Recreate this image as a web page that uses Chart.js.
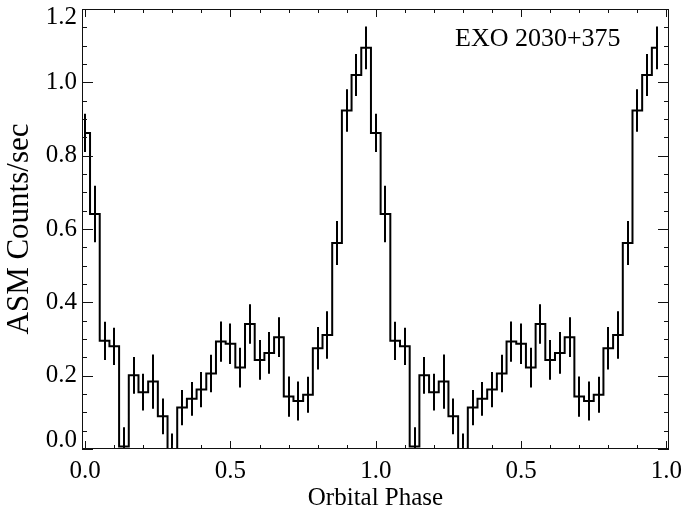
<!DOCTYPE html>
<html lang="en">
<head>
<meta charset="UTF-8">
<title>EXO 2030+375 orbital phase</title>
<style>
  html, body { margin: 0; padding: 0; background: #fff; }
  #wrap { width: 683px; height: 513px; }
</style>
<script src="https://cdn.jsdelivr.net/npm/chart.js"></script>
</head>
<body>
<div id="wrap"><canvas id="phaseChart" width="683" height="513"></canvas></div>
<script>
// ASM light curve folded on the orbit, 30 bins per cycle (bin centres)
const phase = [0.0000, 0.0333, 0.0667, 0.1000, 0.1333, 0.1667, 0.2000, 0.2333, 0.2667, 0.3000,
               0.3333, 0.3667, 0.4000, 0.4333, 0.4667, 0.5000, 0.5333, 0.5667, 0.6000, 0.6333,
               0.6667, 0.7000, 0.7333, 0.7667, 0.8000, 0.8333, 0.8667, 0.9000, 0.9333, 0.9667];
const rate = [0.862, 0.641, 0.295, 0.280, 0.007, 0.201, 0.155, 0.184, 0.089, 0.000,
              0.113, 0.137, 0.162, 0.206, 0.293, 0.287, 0.222, 0.341, 0.243, 0.262,
              0.305, 0.143, 0.131, 0.148, 0.275, 0.311, 0.562, 0.923, 1.020, 1.094];
const rateErr = [0.052, 0.077, 0.052, 0.051, 0.052, 0.050, 0.050, 0.074, 0.049, 0.042,
                 0.048, 0.046, 0.048, 0.051, 0.055, 0.055, 0.054, 0.054, 0.054, 0.057,
                 0.054, 0.055, 0.053, 0.049, 0.058, 0.065, 0.060, 0.058, 0.057, 0.058];
// the profile is shown twice
const cycles = [0, 1];
const yLabels = ['0.0', '0.2', '0.4', '0.6', '0.8', '1.0', '1.2'];
const sourceName = 'EXO 2030+375';

const FONT = '"Liberation Serif", "Times New Roman", serif';

const points = [];
cycles.forEach(c => {
    phase.forEach((p, i) => points.push({ x: p + c, y: rate[i], err: rateErr[i] }));
});

// error bars at each bin centre
const errorBars = {
    id: 'errorBars',
    afterDatasetsDraw(chart) {
        const { ctx, chartArea, scales: { x, y } } = chart;
        ctx.save();
        ctx.beginPath();
        ctx.rect(chartArea.left, chartArea.top, chartArea.right - chartArea.left, chartArea.bottom - chartArea.top);
        ctx.clip();
        ctx.strokeStyle = '#000';
        ctx.lineWidth = 2;
        ctx.beginPath();
        chart.data.datasets[0].data.forEach(pt => {
            const px = Math.round(x.getPixelForValue(pt.x));
            ctx.moveTo(px, y.getPixelForValue(pt.y - pt.err));
            ctx.lineTo(px, y.getPixelForValue(pt.y + pt.err));
        });
        ctx.stroke();
        ctx.restore();
    }
};

// IDL-like box: inward ticks on all four sides, y labels, source name
const frame = {
    id: 'frame',
    afterDraw(chart) {
        const { ctx, chartArea: a, scales: { x, y } } = chart;
        ctx.save();
        ctx.strokeStyle = '#111';
        ctx.lineWidth = 1;
        ctx.strokeRect(Math.round(a.left) + 0.5, Math.round(a.top) + 0.5,
                       Math.round(a.right - a.left) - 1, Math.round(a.bottom - a.top) - 1);
        ctx.beginPath();
        x.ticks.forEach(t => {
            const px = Math.round(x.getPixelForValue(t.value)) + 0.5;
            const major = Math.abs(t.value * 2 - Math.round(t.value * 2)) < 1e-6;
            const len = major ? 8 : 4;
            ctx.moveTo(px, a.bottom); ctx.lineTo(px, a.bottom - len);
            ctx.moveTo(px, a.top); ctx.lineTo(px, a.top + len);
        });
        y.ticks.forEach(t => {
            const py = Math.round(y.getPixelForValue(t.value)) + 0.5;
            const major = Math.abs(t.value * 5 - Math.round(t.value * 5)) < 1e-6;
            const len = major ? 11 : 5;
            ctx.moveTo(a.left, py); ctx.lineTo(a.left + len, py);
            ctx.moveTo(a.right, py); ctx.lineTo(a.right - len, py);
        });
        ctx.stroke();

        ctx.fillStyle = '#000';
        ctx.font = '25px ' + FONT;
        ctx.textAlign = 'right';
        ctx.textBaseline = 'middle';
        yLabels.forEach((lab, i) => {
            let py = y.getPixelForValue(parseFloat(lab));
            if (i === 0) py -= 9;
            if (i === yLabels.length - 1) py += 8;
            ctx.fillText(lab, a.left - 5, py);
        });

        ctx.textAlign = 'left';
        ctx.textBaseline = 'alphabetic';
        ctx.font = '26px ' + FONT;
        ctx.fillText(sourceName, 455, 46);
        ctx.restore();
    }
};

new Chart(document.getElementById('phaseChart'), {
    type: 'line',
    data: {
        datasets: [{
            data: points,
            stepped: 'middle',
            borderColor: '#000',
            borderWidth: 2,
            pointRadius: 0,
            fill: false
        }]
    },
    options: {
        responsive: false,
        devicePixelRatio: 1,
        animation: false,
        layout: { padding: { top: 9, right: 14, left: 0, bottom: 0 } },
        plugins: { legend: { display: false }, tooltip: { enabled: false } },
        scales: {
            x: {
                type: 'linear',
                min: -0.011,
                max: 2.009,
                grid: { display: false },
                border: { display: false },
                ticks: {
                    stepSize: 0.1,
                    includeBounds: false,
                    autoSkip: false,
                    maxRotation: 0,
                    padding: -1,
                    color: '#000',
                    font: { family: FONT, size: 25 },
                    callback: v => {
                        if (Math.abs(v * 2 - Math.round(v * 2)) > 1e-6) return '';
                        return (v > 1.001 ? v - 1 : v).toFixed(1);
                    }
                },
                title: {
                    display: true,
                    text: 'Orbital Phase',
                    color: '#000',
                    font: { family: FONT, size: 25 },
                    padding: { top: 0, bottom: 0 }
                },
                afterFit: s => { s.height = 64; s.paddingLeft = 0; s.paddingRight = 0; }
            },
            y: {
                min: 0,
                max: 1.2,
                grid: { display: false },
                border: { display: false },
                ticks: { stepSize: 0.05, display: false },
                title: {
                    display: true,
                    text: 'ASM Counts/sec',
                    color: '#000',
                    font: { family: FONT, size: 31 },
                    padding: { top: 1, bottom: 0 }
                },
                afterFit: s => { s.width = 82; s.paddingTop = 0; s.paddingBottom = 0; }
            }
        }
    },
    plugins: [errorBars, frame]
});
</script>
</body>
</html>
